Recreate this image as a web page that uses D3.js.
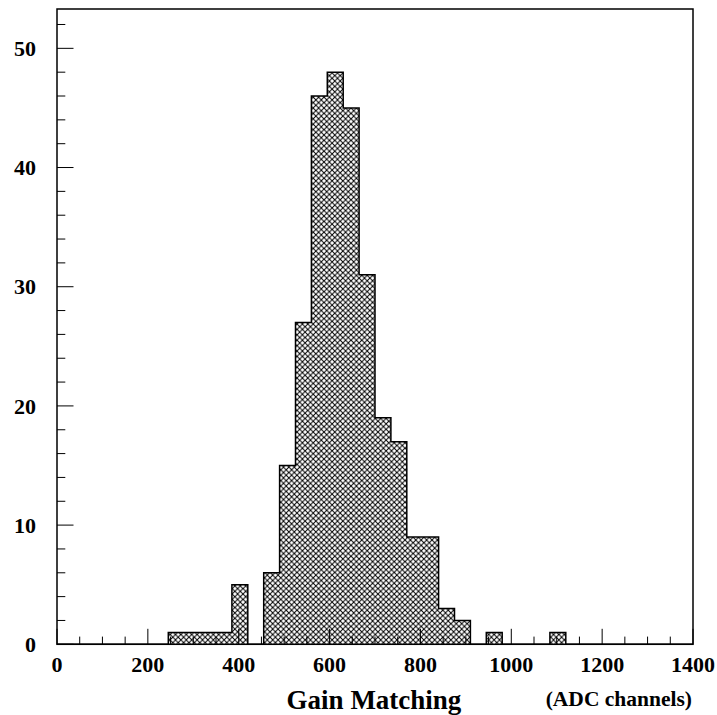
<!DOCTYPE html>
<html>
<head>
<meta charset="utf-8">
<script src="https://cdn.jsdelivr.net/npm/d3@7/dist/d3.min.js"></script>
<style>
  html, body { margin: 0; padding: 0; background: #fff; }
  svg { display: block; }
  text { font-family: "Liberation Serif", "Times New Roman", serif; font-weight: bold; fill: #000; }
</style>
</head>
<body>
<svg id="chart" width="717" height="715"></svg>
<script>
// Histogram of gain-matching values: 40 bins of 35 ADC channels from 0 to 1400
const binWidth = 35;
const xDomain = [0, 1400];
const yDomain = [0, 53.3];
const counts = [
  0, 0, 0, 0, 0, 0, 0, 1, 1, 1,
  1, 5, 0, 6, 15, 27, 46, 48, 45, 31,
  19, 17, 9, 9, 3, 2, 0, 1, 0, 0,
  0, 1, 0, 0, 0, 0, 0, 0, 0, 0
];
const xTickValues = [0, 200, 400, 600, 800, 1000, 1200, 1400];
const yTickValues = [0, 10, 20, 30, 40, 50];
const xTitle = "Gain Matching";
const xUnits = "(ADC channels)";

const svg = d3.select("#chart");
const frame = { left: 57, right: 693, top: 9, bottom: 644.3 };

const x = d3.scaleLinear().domain(xDomain).range([frame.left, frame.right]);
const y = d3.scaleLinear().domain(yDomain).range([frame.bottom, frame.top]);

// cross-hatch fill pattern: both diagonals through the tile
const p = 5.4;
const defs = svg.append("defs");
defs.append("pattern")
  .attr("id", "xhatch")
  .attr("patternUnits", "userSpaceOnUse")
  .attr("width", p).attr("height", p)
  .append("path")
  .attr("d", `M${-p},${-p}L${2*p},${2*p}M${2*p},${-p}L${-p},${2*p}`)
  .attr("stroke", "#000")
  .attr("stroke-width", 1)
  .attr("fill", "none");

// step points: one per bin start, plus closing point at upper edge
const pts = counts.map((c, i) => ({ x0: xDomain[0] + i * binWidth, c }));
pts.push({ x0: xDomain[0] + counts.length * binWidth, c: counts[counts.length - 1] });

const area = d3.area()
  .curve(d3.curveStepAfter)
  .x(d => x(d.x0))
  .y0(y(0))
  .y1(d => y(d.c));

const line = d3.line()
  .curve(d3.curveStepAfter)
  .x(d => x(d.x0))
  .y(d => y(d.c));

svg.append("path")
  .attr("d", area(pts))
  .attr("fill", "url(#xhatch)")
  .attr("stroke", "none");

svg.append("path")
  .attr("d", line(pts))
  .attr("fill", "none")
  .attr("stroke", "#000")
  .attr("stroke-width", 1.5);

// ticks pointing inward
const xMinor = d3.range(xDomain[0], xDomain[1] + 1, 50);
svg.append("g").selectAll("line").data(xMinor).join("line")
  .attr("x1", d => x(d)).attr("x2", d => x(d))
  .attr("y1", frame.bottom)
  .attr("y2", d => frame.bottom - (d % 200 === 0 ? 15.5 : 7.7))
  .attr("stroke", "#000").attr("stroke-width", 1);

const yMinor = d3.range(0, 53, 2);
svg.append("g").selectAll("line").data(yMinor).join("line")
  .attr("y1", d => y(d)).attr("y2", d => y(d))
  .attr("x1", frame.left)
  .attr("x2", d => frame.left + (d % 10 === 0 ? 16.5 : 8.3))
  .attr("stroke", "#000").attr("stroke-width", 1);

// frame
svg.append("rect")
  .attr("x", frame.left).attr("y", frame.top)
  .attr("width", frame.right - frame.left)
  .attr("height", frame.bottom - frame.top)
  .attr("fill", "none").attr("stroke", "#000").attr("stroke-width", 1.5);

// tick labels
svg.append("g").selectAll("text").data(xTickValues).join("text")
  .attr("x", d => x(d)).attr("y", 671.5)
  .attr("text-anchor", "middle")
  .attr("font-size", 22)
  .text(d => d);

svg.append("g").selectAll("text").data(yTickValues).join("text")
  .attr("x", 36).attr("y", d => y(d))
  .attr("dy", "0.35em")
  .attr("text-anchor", "end")
  .attr("font-size", 22)
  .text(d => d);

// axis titles
svg.append("text")
  .attr("x", 374).attr("y", 709)
  .attr("text-anchor", "middle")
  .attr("font-size", 27)
  .text(xTitle);

svg.append("text")
  .attr("x", 692).attr("y", 705.5)
  .attr("text-anchor", "end")
  .attr("font-size", 21.5)
  .text(xUnits);
</script>
</body>
</html>
